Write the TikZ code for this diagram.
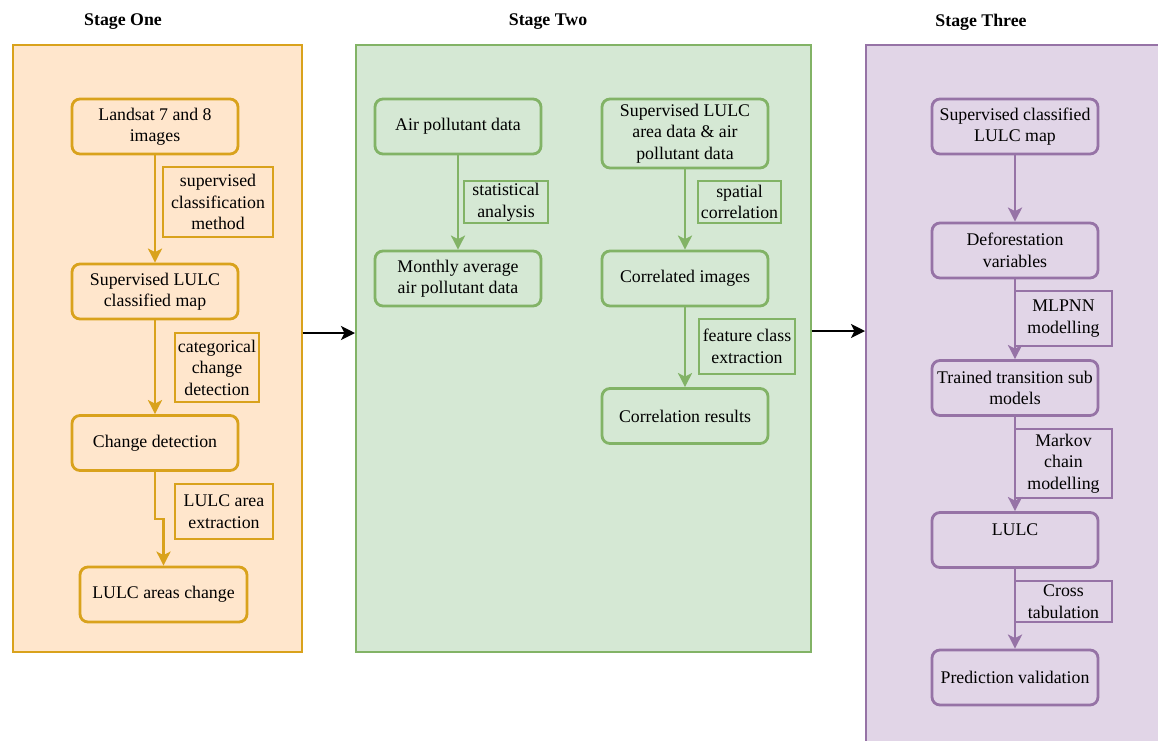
\documentclass[tikz,border=0pt]{standalone}
\usepackage{fontspec}
\setmainfont{Liberation Serif}
\usetikzlibrary{arrows.meta}
\definecolor{onefill}{HTML}{FFE6CC}
\definecolor{onedraw}{HTML}{D9A21C}
\definecolor{twofill}{HTML}{D5E8D4}
\definecolor{twodraw}{HTML}{82B366}
\definecolor{threefill}{HTML}{E1D5E7}
\definecolor{threedraw}{HTML}{9673A6}

\begin{document}
\begin{tikzpicture}[x=1pt,y=-1pt,>={Stealth[length=14pt,width=14pt,inset=3.5pt]},
  every node/.style={font=\fontsize{17.8}{21.5}\selectfont},
  title/.style={font=\fontsize{17.8}{21.5}\selectfont\bfseries},
  panel/.style={draw,line width=1.5,anchor=north west,inner sep=0},
  box/.style={draw,rounded corners=8,line width=2.8,minimum width=166,minimum height=55,align=center,inner sep=2},
  tag/.style={draw,line width=2.8,align=center,inner sep=1},
  flow/.style={->,line width=2.8},
  link/.style={->,line width=2.8,black}]
  \useasboundingbox (0,0) rectangle (1158,740);

  \node[panel,fill=onefill,draw=onedraw,minimum width=289,minimum height=607] (one) at (12,44) {};
  \node[panel,fill=twofill,draw=twodraw,minimum width=455,minimum height=607] (two) at (355,44) {};
  \node[panel,fill=threefill,draw=threedraw,minimum width=310,minimum height=720] (three) at (865,44) {};
  \node[title] (t1) at (123,22) {Stage One};
  \node[title] (t2) at (548,22) {Stage Two};
  \node[title] (t3) at (981,22) {Stage Three};
  \draw[link] (one.east |- 0,333) -- (two.west |- 0,333);
  \draw[link] (two.east |- 0,331) -- (three.west |- 0,331);

  \node[box,draw=onedraw] (ls) at (155,126.5) {Landsat 7 and 8\\images};
  \node[box,draw=onedraw] (slc) at (155,291.5) {Supervised LULC\\classified map};
  \node[box,draw=onedraw] (cd) at (155,443) {Change detection};
  \node[box,draw=onedraw,minimum width=167] (lac) at (163.5,594.5) {LULC areas change};
  \node[tag,draw=onedraw,minimum width=110,minimum height=70] (scm) at (218,202) {supervised\\classification\\method};
  \node[tag,draw=onedraw,minimum width=84,minimum height=69] (ccd) at (217,367.5) {categorical\\change\\detection};
  \node[tag,draw=onedraw,minimum width=98,minimum height=55] (lae) at (224,511.5) {LULC area\\extraction};
  \draw[flow,draw=onedraw] (ls) -- (slc);
  \draw[flow,draw=onedraw] (slc) -- (cd);
  \draw[flow,draw=onedraw] (cd.south) -- ++(0,47) -| (lac.north);

  \node[box,draw=twodraw] (apd) at (458,126.5) {Air pollutant data};
  \node[box,draw=twodraw] (mad) at (458,278.5) {Monthly average\\air pollutant data};
  \node[box,draw=twodraw,minimum height=69] (sla) at (685,133.5) {Supervised LULC\\area data \& air\\pollutant data};
  \node[box,draw=twodraw] (ci) at (685,278.5) {Correlated images};
  \node[box,draw=twodraw] (cr) at (685,416) {Correlation results};
  \node[tag,draw=twodraw,minimum width=84,minimum height=42] (sa) at (506,202) {statistical\\analysis};
  \node[tag,draw=twodraw,minimum width=83,minimum height=42] (sc) at (739.5,202) {spatial\\correlation};
  \node[tag,draw=twodraw,minimum width=96,minimum height=55] (fce) at (747,346.5) {feature class\\extraction};
  \draw[flow,draw=twodraw] (apd) -- (mad);
  \draw[flow,draw=twodraw] (sla) -- (ci);
  \draw[flow,draw=twodraw] (ci) -- (cr);

  \node[box,draw=threedraw] (scl) at (1015,126.5) {Supervised classified\\LULC map};
  \node[box,draw=threedraw] (dv) at (1015,250.5) {Deforestation\\variables};
  \node[box,draw=threedraw] (tts) at (1015,388) {Trained transition sub\\models};
  \node[box,draw=threedraw] (lulc) at (1015,540) {LULC\\\mbox{}};
  \node[box,draw=threedraw] (pv) at (1015,677.5) {Prediction validation};
  \node[tag,draw=threedraw,minimum width=97,minimum height=55] (mlp) at (1063.5,318.5) {MLPNN\\modelling};
  \node[tag,draw=threedraw,minimum width=97,minimum height=69] (mcm) at (1063.5,463.5) {Markov\\chain\\modelling};
  \node[tag,draw=threedraw,minimum width=97,minimum height=41] (ct) at (1063.5,601.5) {Cross\\tabulation};
  \draw[flow,draw=threedraw] (scl) -- (dv);
  \draw[flow,draw=threedraw] (dv) -- (tts);
  \draw[flow,draw=threedraw] (tts) -- (lulc);
  \draw[flow,draw=threedraw] (lulc) -- (pv);
\end{tikzpicture}
\end{document}
